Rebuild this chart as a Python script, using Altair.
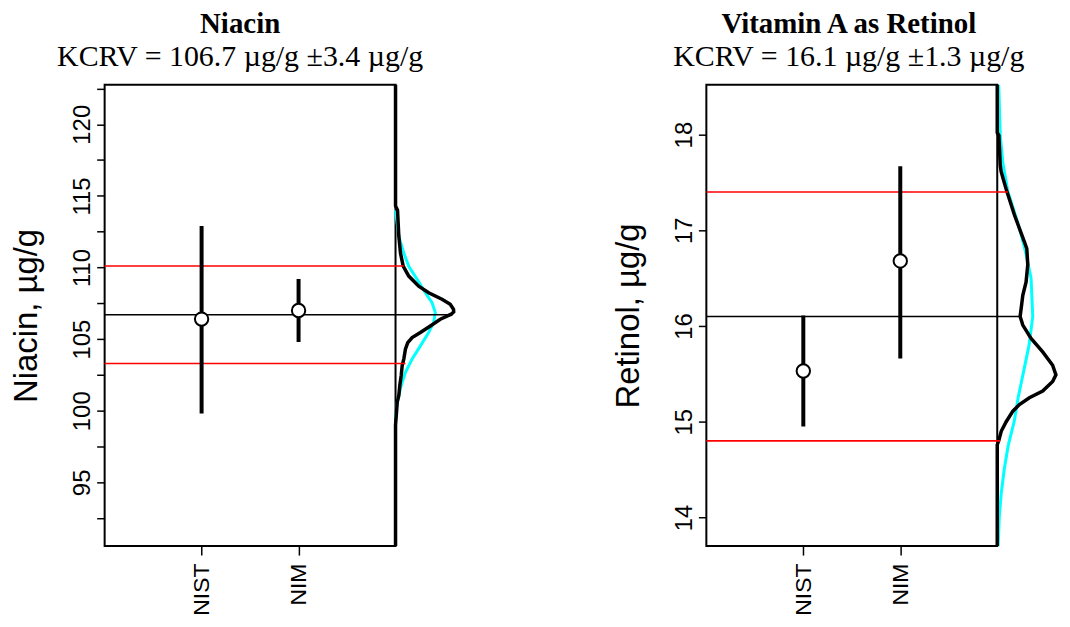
import altair as alt
import pandas as pd

# ---------------- data ----------------
labs = ["NIST", "NIM"]
lab_pos = [1, 2]

# Niacin
nia_val = [106.4, 107.0]
nia_lo = [99.8, 104.8]
nia_hi = [112.9, 109.2]
nia_kcrv = 106.7
nia_U = 3.4
nia_domain = [90.55, 122.75]
nia_ticks = [92.5, 95, 97.5, 100, 102.5, 105, 107.5, 110, 112.5, 115, 117.5, 120, 122.5]
nia_line_end = [57.0, 8.3, 10.0]          # density height where KCRV / upper / lower lines stop
nia_black_v = [122.75, 114.3, 114.0, 112.2, 111.0, 110.1, 109.4, 108.7, 108.24, 107.78, 107.43,
               107.08, 106.9, 106.74, 106.39, 105.92, 105.46, 105.11, 104.76, 104.31, 103.61,
               103.15, 102.45, 101.76, 101.06, 100.6, 99.9, 99.0, 90.55]
nia_black_d = [0, 0, 2, 3.3, 5, 7.7, 13.3, 23.3, 33.3, 46.7, 55, 58.3, 58.5, 56, 45, 35, 25, 16.7,
               12.3, 10, 8.3, 6.7, 5.7, 4.3, 3.3, 1.7, 1, 0, 0]
nia_cyan_v = [114.0, 112.17, 111.01, 110.09, 109.17, 108.24, 107.55, 106.85, 106.15, 105.46,
              104.53, 103.61, 102.68, 101.76, 100.6, 99.44]
nia_cyan_d = [0, 3.3, 8.3, 13.3, 21.7, 30, 36.7, 40, 38.3, 33.3, 25, 16.7, 10, 5.7, 1.7, 0]

# Retinol
ret_val = [15.53, 16.68]
ret_lo = [14.95, 15.66]
ret_hi = [16.11, 17.67]
ret_kcrv = 16.1
ret_U = 1.3
ret_domain = [13.70, 18.52]
ret_ticks = [14, 14.5, 15, 15.5, 16, 16.5, 17, 17.5, 18, 18.5]
ret_line_end = [22.0, 10.7, 3.0]
ret_black_v = [18.52, 18.02, 17.99, 17.68, 17.61, 17.43, 17.16, 16.88, 16.81, 16.64, 16.46,
               16.32, 16.18, 16.10, 16.01, 15.87, 15.73, 15.59, 15.49, 15.42, 15.32, 15.25,
               15.18, 15.11, 15.00, 14.90, 14.81, 14.76, 13.70]
ret_black_d = [0, 0, 1.7, 3, 4, 9, 17.3, 27.3, 29.7, 30.7, 29, 25.7, 24, 23, 25.7, 34, 45.7,
               55.7, 59, 55.7, 45.7, 32.3, 22.3, 15.7, 9, 4, 1.7, 0, 0]
ret_cyan_v = [18.52, 18.0, 17.7, 17.41, 17.2, 17.0, 16.75, 16.5, 16.1, 15.8, 15.55, 15.25,
              15.0, 14.75, 14.5, 14.25, 14.0, 13.70]
ret_cyan_d = [1.5, 3, 5.7, 10.6, 17, 23, 29, 34, 35.7, 32, 27, 21, 17, 11, 7, 4, 2, 1]

DENS_SCALE = 97.5   # density height units per category step
N_SLOTS = 3

SANS = "Liberation Sans"
SERIF = "Liberation Serif"


def panel(title, subtitle, ytitle, val, lo, hi, kcrv, U, domain, ticks, line_end,
          bv, bd, cv, cd, label_mod, title_dx):
    pts = pd.DataFrame({"lab": labs, "x": lab_pos, "v": val, "lo": lo, "hi": hi})
    rules = pd.DataFrame({
        "y": [kcrv, kcrv + U, kcrv - U],
        "x0": [0, 0, 0],
        "x1": [N_SLOTS + e / DENS_SCALE for e in line_end],
        "col": ["black", "red", "red"],
    })
    black = pd.DataFrame({"v": bv, "x": [N_SLOTS + d / DENS_SCALE for d in bd],
                          "i": list(range(len(bv)))})
    cyan = pd.DataFrame({"v": cv, "x": [N_SLOTS + d / DENS_SCALE for d in cd],
                         "i": list(range(len(cv)))})

    xscale = alt.Scale(domain=[0, N_SLOTS], nice=False, zero=False)
    yscale = alt.Scale(domain=domain, nice=False, zero=False)
    lab_expr = "[" + ",".join("'%s'" % s for s in labs) + "][datum.value - 1]"
    xaxis = alt.Axis(values=lab_pos, labelExpr=lab_expr, labelAngle=270, labelAlign="right",
                     labelBaseline="middle", tickSize=9, tickWidth=1.5, tickColor="black",
                     domain=False, grid=False, title=None, labelPadding=8,
                     labelFontSize=23, labelFont=SANS, labelColor="black")
    yaxis = alt.Axis(values=ticks, format="d",
                     labelExpr="datum.value %% %s == 0 ? datum.label : ''" % label_mod,
                     labelAngle=270, labelAlign="center", labelBaseline="bottom",
                     tickSize=8, tickWidth=1.5, tickColor="black", domain=False, grid=False,
                     title=ytitle, titleFont=SANS, titleFontSize=33, titleFontWeight="normal",
                     titleColor="black", titlePadding=27, labelPadding=2,
                     labelFontSize=24, labelFont=SANS, labelColor="black")

    X = lambda f: alt.X(f, type="quantitative", scale=xscale, axis=xaxis)
    Y = lambda f: alt.Y(f, type="quantitative", scale=yscale, axis=yaxis)

    cyan_l = alt.Chart(cyan).mark_line(color="#00FFFF", strokeWidth=3).encode(
        x=X("x"), y=Y("v"), order=alt.Order("i:Q"))
    black_l = alt.Chart(black).mark_line(color="black", strokeWidth=3.5).encode(
        x=X("x"), y=Y("v"), order=alt.Order("i:Q"))
    rule_l = alt.Chart(rules).mark_rule(strokeWidth=1.6).encode(
        x=X("x0"), x2="x1", y=Y("y"), color=alt.Color("col:N", scale=None))
    bars = alt.Chart(pts).mark_rule(color="black", strokeWidth=4).encode(
        x=X("x"), y=Y("lo"), y2="hi")
    dots = alt.Chart(pts).mark_point(shape="circle", filled=True, fill="white", stroke="black",
                                     strokeWidth=2, size=180, opacity=1).encode(
        x=X("x"), y=Y("v"))

    return alt.layer(cyan_l, black_l, rule_l, bars, dots).properties(
        width=292, height=463,
        title=alt.TitleParams(
            text=title, subtitle=subtitle, font=SERIF, fontSize=29, fontWeight="bold",
            color="black", subtitleFont=SERIF, subtitleFontSize=30,
            subtitleFontWeight="normal", subtitleColor="black", subtitlePadding=3,
            anchor="middle", offset=6, dx=title_dx),
    )


p1 = panel("Niacin", "KCRV = 106.7 \u00b5g/g \u00b13.4 \u00b5g/g", "Niacin, \u00b5g/g",
           nia_val, nia_lo, nia_hi, nia_kcrv, nia_U, nia_domain, nia_ticks, nia_line_end,
           nia_black_v, nia_black_d, nia_cyan_v, nia_cyan_d, 5, -10)
p2 = panel("Vitamin A as Retinol", "KCRV = 16.1 \u00b5g/g \u00b11.3 \u00b5g/g", "Retinol, \u00b5g/g",
           ret_val, ret_lo, ret_hi, ret_kcrv, ret_U, ret_domain, ret_ticks, ret_line_end,
           ret_black_v, ret_black_d, ret_cyan_v, ret_cyan_d, 1, -3)

chart = alt.hconcat(p1, p2, spacing=312, bounds="flush",
                    padding={"left": 2, "top": 0, "right": -2, "bottom": 0}).configure(
    background="white").configure_view(stroke="black", strokeWidth=2)

chart.save("out.html", embed_options={"renderer": "svg", "actions": False})
